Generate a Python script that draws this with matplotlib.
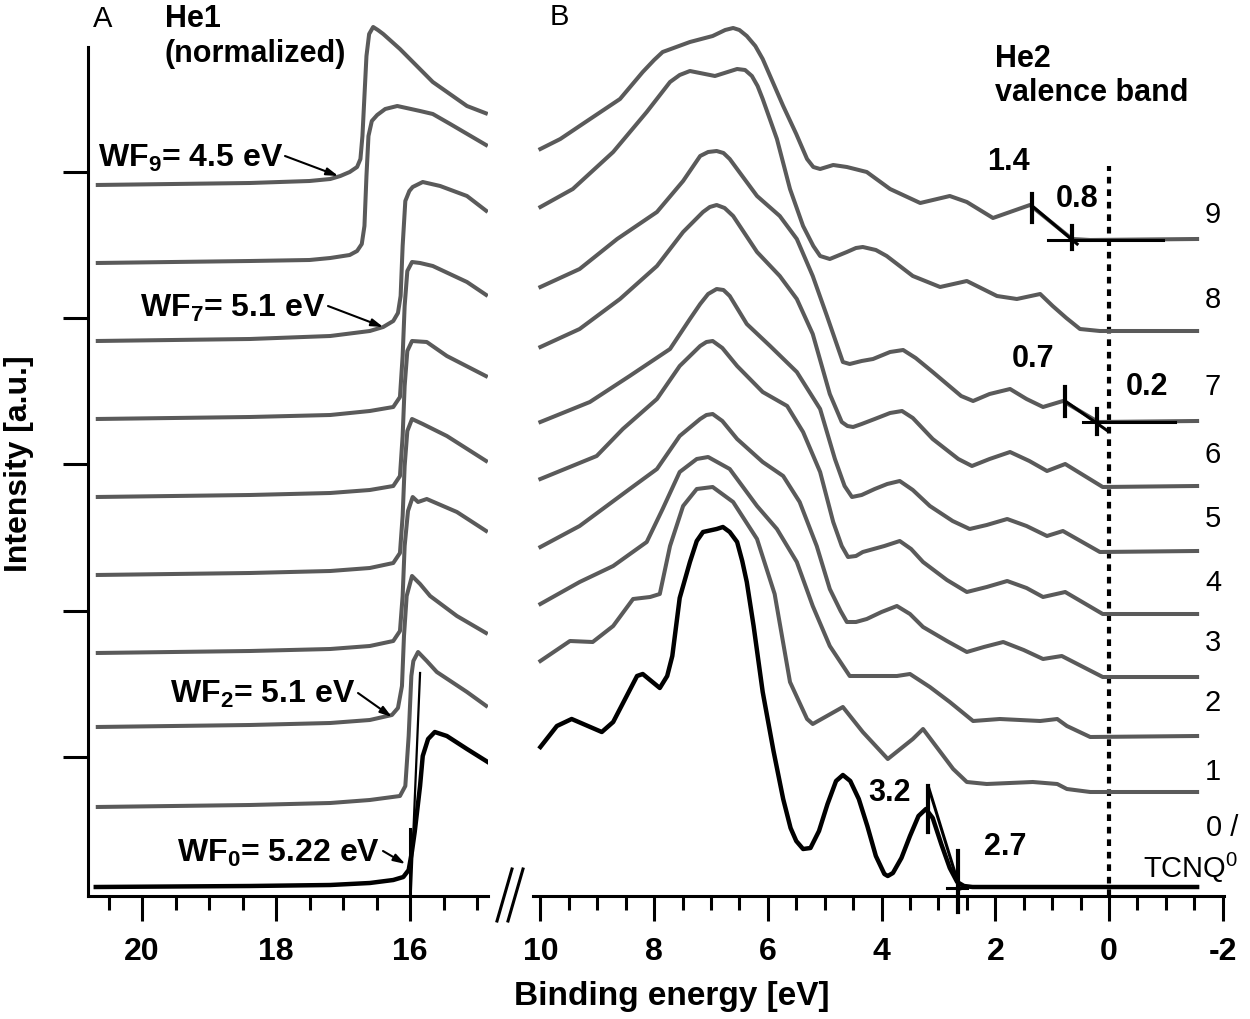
import matplotlib
matplotlib.use('Agg')
import matplotlib.pyplot as plt
from matplotlib.lines import Line2D
from matplotlib.ticker import MultipleLocator

plt.rcParams['font.family'] = ['Liberation Sans', 'DejaVu Sans']
plt.rcParams['mathtext.default'] = 'regular'
plt.rcParams['axes.unicode_minus'] = False

# ---------------- Panel A: He I secondary-electron cut-off (normalized, stacked) -------------
seco9_E = [20.69, 18.39, 17.50, 17.19, 17.04, 16.90, 16.79, 16.74, 16.71, 16.68, 16.65, 16.61, 16.55, 16.48, 16.40, 16.15, 15.66, 15.15, 14.84]
seco9_I = [711, 713, 715, 717, 720, 724, 729, 737, 760, 800, 840, 862, 869, 866, 862, 847, 814, 790, 782]
seco8_E = [20.69, 18.39, 17.50, 17.19, 16.90, 16.79, 16.72, 16.68, 16.65, 16.62, 16.57, 16.49, 16.37, 16.19, 15.85, 15.66, 15.40, 14.84]
seco8_I = [633, 635, 636, 638, 641, 645, 652, 670, 720, 760, 775, 781, 787, 790, 785, 782, 772, 750]
seco7_E = [20.69, 18.39, 17.19, 16.60, 16.40, 16.25, 16.18, 16.14, 16.11, 16.07, 16.01, 15.96, 15.81, 15.55, 15.15, 14.84]
seco7_I = [555, 557, 560, 565, 569, 575, 583, 600, 650, 695, 705, 709, 714, 710, 700, 684]
seco6_E = [20.69, 18.39, 17.19, 16.60, 16.25, 16.15, 16.11, 16.08, 16.04, 15.97, 15.85, 15.66, 15.15, 14.84]
seco6_I = [477, 479, 481, 485, 489, 499, 540, 590, 625, 634, 633, 630, 614, 600]
seco5_E = [20.69, 18.39, 17.19, 16.60, 16.25, 16.15, 16.11, 16.08, 16.04, 15.97, 15.75, 15.45, 14.84]
seco5_I = [399, 401, 403, 406, 410, 420, 460, 510, 545, 555, 554, 540, 519]
seco4_E = [20.69, 18.39, 17.19, 16.60, 16.25, 16.15, 16.11, 16.08, 16.04, 15.97, 15.81, 15.45, 14.84]
seco4_I = [321, 323, 325, 328, 333, 343, 380, 430, 465, 477, 472, 460, 434]
seco3_E = [20.69, 18.39, 17.19, 16.60, 16.25, 16.15, 16.11, 16.08, 16.03, 15.96, 15.88, 15.75, 15.30, 14.84]
seco3_I = [243, 245, 247, 250, 255, 265, 300, 350, 385, 399, 394, 397, 384, 364]
seco2_E = [20.69, 18.39, 17.19, 16.60, 16.27, 16.18, 16.12, 16.09, 16.05, 15.97, 15.85, 15.70, 15.30, 14.84]
seco2_I = [169, 171, 173, 176, 181, 188, 210, 260, 300, 320, 312, 300, 280, 262]
seco1_E = [20.69, 18.39, 17.19, 16.60, 16.15, 16.07, 16.02, 15.98, 15.95, 15.88, 15.75, 15.60, 15.15, 14.84]
seco1_I = [89, 91, 93, 96, 100, 110, 160, 220, 235, 244, 235, 224, 204, 189]
seco0_E = [20.69, 18.39, 17.19, 16.60, 16.25, 16.10, 16.02, 15.97, 15.93, 15.85, 15.81, 15.73, 15.63, 15.45, 15.15, 14.84]
seco0_I = [9, 10, 11, 13, 16, 19, 26, 45, 64, 110, 140, 157, 164, 160, 147, 134]
# linear extrapolation of the TCNQ0 cut-off
seco0_fit_E = [15.99, 15.85]
seco0_fit_I = [0, 223]

# ---------------- Panel B: He II valence band (stacked) ----------------
vb9_E = [10.0, 9.65, 9.31, 8.60, 8.20, 8.00, 7.85, 7.37, 6.97, 6.75, 6.61, 6.50, 6.37, 6.22, 6.09, 5.73, 5.50, 5.31, 5.20, 5.08, 4.85, 4.61, 4.26, 3.85, 3.32, 2.80, 2.50, 2.04, 1.74, 1.39, 0.65, 0.33, -1.55]
vb9_I = [747, 757, 770, 797, 824, 836, 844, 854, 860, 866, 868, 866, 860, 850, 837, 790, 762, 737, 729, 727, 731, 729, 724, 707, 693, 700, 694, 678, 684, 691, 657, 656, 657]
vb8_E = [10.0, 9.43, 8.72, 8.13, 7.72, 7.55, 7.37, 6.93, 6.54, 6.40, 6.28, 6.18, 6.09, 5.84, 5.61, 5.38, 5.20, 5.08, 4.91, 4.61, 4.45, 4.33, 4.10, 3.91, 3.45, 2.97, 2.50, 1.97, 1.62, 1.21, 0.99, 0.75, 0.51, 0.16, -1.55]
vb8_I = [689, 707, 744, 784, 814, 821, 825, 820, 827, 826, 820, 810, 797, 757, 707, 670, 650, 640, 637, 644, 648, 649, 646, 640, 620, 609, 615, 600, 597, 602, 590, 578, 567, 565, 565]
vb7_E = [10.0, 9.31, 8.65, 7.95, 7.49, 7.19, 7.05, 6.90, 6.78, 6.67, 6.45, 6.19, 5.79, 5.49, 5.21, 4.96, 4.68, 4.56, 4.35, 4.15, 3.85, 3.62, 3.40, 3.10, 2.60, 2.39, 2.10, 1.74, 1.45, 1.16, 0.81, 0.19, -1.55]
vb7_I = [609, 627, 657, 684, 715, 740, 744, 745, 743, 737, 720, 700, 680, 657, 620, 580, 534, 532, 535, 537, 544, 546, 538, 524, 500, 495, 502, 507, 497, 489, 495, 474, 475]
vb6_E = [10.0, 9.31, 8.60, 7.95, 7.49, 7.14, 7.02, 6.90, 6.76, 6.61, 6.19, 5.79, 5.49, 5.21, 4.91, 4.70, 4.60, 4.50, 4.35, 4.12, 3.85, 3.64, 3.45, 3.10, 2.65, 2.41, 2.10, 1.74, 1.40, 1.09, 0.77, 0.11, -1.55]
vb6_I = [549, 567, 597, 630, 664, 684, 689, 691, 688, 680, 644, 620, 597, 562, 502, 474, 470, 469, 472, 477, 483, 485, 478, 457, 437, 430, 437, 444, 435, 425, 432, 409, 410]
vb5_E = [10.0, 9.13, 8.43, 7.72, 7.37, 7.19, 7.05, 6.90, 6.78, 6.67, 6.37, 5.96, 5.49, 5.08, 4.82, 4.65, 4.52, 4.35, 4.12, 3.90, 3.68, 3.45, 3.15, 2.75, 2.45, 2.15, 1.79, 1.45, 1.09, 0.81, 0.16, -1.55]
vb5_I = [474, 494, 520, 547, 577, 592, 602, 607, 606, 600, 572, 550, 524, 487, 437, 410, 399, 401, 407, 412, 415, 406, 390, 375, 367, 371, 377, 370, 360, 365, 344, 345]
vb4_E = [10.0, 9.01, 8.55, 7.95, 7.55, 7.19, 7.08, 6.97, 6.80, 6.54, 6.09, 5.66, 5.38, 5.08, 4.85, 4.70, 4.59, 4.45, 4.33, 3.95, 3.68, 3.48, 3.27, 2.85, 2.50, 2.15, 1.79, 1.45, 1.16, 0.77, 0.11, -1.55]
vb4_I = [417, 440, 467, 497, 530, 550, 554, 555, 548, 530, 504, 490, 464, 424, 374, 350, 339, 340, 344, 350, 355, 347, 334, 316, 304, 309, 315, 308, 299, 304, 282, 282]
vb3_E = [10.0, 9.31, 8.43, 7.95, 7.55, 7.19, 7.08, 6.97, 6.80, 6.54, 6.09, 5.73, 5.44, 5.14, 4.91, 4.72, 4.61, 4.45, 4.26, 4.00, 3.73, 3.50, 3.27, 2.85, 2.50, 2.20, 1.86, 1.50, 1.16, 0.83, 0.11, -1.55]
vb3_I = [349, 370, 407, 427, 460, 477, 481, 482, 475, 457, 434, 420, 394, 350, 307, 285, 274, 274, 277, 284, 290, 282, 269, 255, 244, 249, 254, 246, 237, 240, 219, 219]
vb2_E = [10.0, 9.31, 8.72, 8.13, 7.85, 7.55, 7.25, 7.05, 6.67, 6.19, 5.84, 5.49, 5.21, 4.91, 4.56, 3.73, 3.50, 3.15, 2.80, 2.39, 1.92, 1.21, 0.91, 0.74, 0.33, -1.55]
vb2_I = [292, 314, 330, 354, 387, 424, 437, 439, 427, 390, 367, 334, 290, 250, 220, 220, 222, 209, 194, 175, 177, 175, 177, 170, 159, 160]
vb1_E = [10.0, 9.48, 9.08, 8.72, 8.37, 8.07, 7.90, 7.72, 7.49, 7.25, 6.97, 6.61, 6.19, 5.88, 5.61, 5.31, 5.21, 4.68, 4.33, 3.89, 3.45, 3.27, 2.74, 2.50, 2.15, 1.34, 0.91, 0.74, 0.33, -1.55]
vb1_I = [235, 255, 254, 270, 297, 299, 302, 350, 390, 407, 409, 394, 357, 302, 214, 177, 172, 189, 164, 137, 157, 167, 127, 114, 112, 114, 112, 107, 104, 104]
vb0_E = [10.0, 9.71, 9.45, 8.92, 8.72, 8.30, 8.20, 7.90, 7.77, 7.68, 7.55, 7.37, 7.25, 7.14, 6.90, 6.79, 6.67, 6.54, 6.45, 6.37, 6.25, 6.09, 5.90, 5.73, 5.60, 5.50, 5.38, 5.25, 5.10, 4.95, 4.80, 4.68, 4.55, 4.40, 4.25, 4.10, 3.95, 3.89, 3.80, 3.65, 3.50, 3.35, 3.22, 3.10, 2.95, 2.80, 2.67, 2.55, 2.40, -1.55]
vb0_I = [149, 170, 177, 164, 174, 220, 222, 208, 220, 240, 298, 334, 355, 364, 367, 369, 364, 354, 335, 314, 270, 204, 145, 97, 68, 55, 47, 48, 65, 92, 115, 121, 115, 97, 70, 40, 22, 20, 23, 38, 60, 80, 87, 78, 52, 28, 14, 10, 9, 9]

# onset / edge marks (energy, low, high)
marks_E = [1.35, 0.65, 0.77, 0.21, 3.18, 2.66]
marks_lo = [674, 647, 480, 462, 64, -16]
marks_hi = [702, 670, 509, 487, 110, 45]
slope_lines = [([1.35, 0.56], [690, 652]), ([0.77, 0.02], [495, 465]), ([3.18, 2.62], [110, 7])]
base_lines = [([1.07, -0.95], [656, 656]), ([0.46, -1.16], [474, 474]), ([2.85, 2.50], [8, 8])]

ticksA = [20, 18, 16]
ticksB = [10, 8, 6, 4, 2, 0, -2]

GRAY = '#5a5a5a'
W, H = 1250, 1020
fig = plt.figure(figsize=(12.5, 10.2), dpi=100)

def fx(x):
    return x / W

def fy(y):
    return 1 - y / H

axL = fig.add_axes([fx(88), fy(897), (488 - 88) / W, 897 / H])
axR = fig.add_axes([fx(533), fy(897), (1224 - 533) / W, 897 / H])
for ax in (axL, axR):
    ax.patch.set_alpha(0)
axL.set_xlim(20.806, 14.836)
axR.set_xlim(10.13, -2.023)
axL.set_ylim(0, 897)
axR.set_ylim(0, 897)

secoA = [(seco9_E, seco9_I), (seco8_E, seco8_I), (seco7_E, seco7_I), (seco6_E, seco6_I),
         (seco5_E, seco5_I), (seco4_E, seco4_I), (seco3_E, seco3_I), (seco2_E, seco2_I),
         (seco1_E, seco1_I)]
for e, i in secoA:
    axL.plot(e, i, color=GRAY, lw=2.9, solid_joinstyle='round', solid_capstyle='butt')
axL.plot(seco0_E, seco0_I, color='black', lw=3.2, solid_joinstyle='round')
axL.plot(seco0_fit_E, seco0_fit_I, color='black', lw=1.6)
axL.plot([16.0, 16.0], [0, 67], color='black', lw=2.2)

vbB = [(vb9_E, vb9_I), (vb8_E, vb8_I), (vb7_E, vb7_I), (vb6_E, vb6_I), (vb5_E, vb5_I),
       (vb4_E, vb4_I), (vb3_E, vb3_I), (vb2_E, vb2_I), (vb1_E, vb1_I)]
axR.plot([0, 0], [0, 730], color='black', lw=3, ls=(0, (1.6, 1.4)), zorder=1)
for e, i in vbB:
    axR.plot(e, i, color=GRAY, lw=2.9, solid_joinstyle='round', zorder=2)
axR.plot(vb0_E, vb0_I, color='black', lw=3.2, solid_joinstyle='round', zorder=3)

for e, lo, hi in zip(marks_E, marks_lo, marks_hi):
    axR.plot([e, e], [lo, hi], color='black', lw=3.0, clip_on=False, zorder=4)
for e, i in slope_lines + base_lines:
    axR.plot(e, i, color='black', lw=2.2, zorder=4)

# axes styling
for ax in (axL, axR):
    ax.spines['top'].set_visible(False)
    ax.spines['right'].set_visible(False)
    ax.spines['bottom'].set_linewidth(2.2)
    ax.xaxis.set_minor_locator(MultipleLocator(0.5))
    ax.tick_params(axis='x', which='major', direction='out', length=18, width=2.2, labelsize=23, pad=11)
    ax.tick_params(axis='x', which='minor', direction='out', length=10, width=2.2)
axL.set_xticks(ticksA)
axL.set_xticklabels([str(t) for t in ticksA], fontweight='bold')
axR.set_xticks(ticksB)
axR.set_xticklabels([str(t) for t in ticksB], fontweight='bold')

axL.spines['left'].set_linewidth(2.2)
axL.spines['left'].set_bounds(0, 849)
axL.set_yticks([139, 285, 432, 578, 724])
axL.set_yticklabels([])
axL.tick_params(axis='y', direction='out', length=18, width=2.2)
axR.spines['left'].set_visible(False)
axR.set_yticks([])

# broken-axis mark
for dx in (0, 11):
    fig.add_artist(Line2D([fx(497 + dx), fx(512 + dx)], [fy(922), fy(870)],
                          transform=fig.transFigure, color='black', lw=2.2))

def T(x, y, s, size, weight='bold', ha='center', va='center', **kw):
    fig.text(fx(x), fy(y), s, fontsize=size, fontweight=weight, ha=ha, va=va, **kw)

T(103, 19, 'A', 21, weight='normal')
T(559, 17, 'B', 21, weight='normal')
T(165, 27, 'He1', 22, ha='left', va='baseline')
T(165, 62, '(normalized)', 22, ha='left', va='baseline')
T(995, 67, 'He2', 22, ha='left', va='baseline')
T(995, 101, 'valence band', 22, ha='left', va='baseline')

T(19, 464, 'Intensity [a.u.]', 23, rotation=90)
T(672, 997, 'Binding energy [eV]', 24)

# work-function labels with arrows
wf_labels = [(r'WF$_9$= 4.5 eV', 283, 167, (285, 157), (17.07, 720)),
             (r'WF$_7$= 5.1 eV', 325, 317, (328, 307), (16.40, 569)),
             (r'WF$_2$= 5.1 eV', 355, 703, (358, 694), (16.27, 179)),
             (r'WF$_0$= 5.22 eV', 380, 862, (383, 852), (16.07, 32))]
for s, xr, yb, start, tip in wf_labels:
    T(xr, yb, s, 23, ha='right', va='baseline')
    axL.annotate('', xy=tip, xycoords='data', xytext=(start[0], H - start[1]),
                 textcoords='figure pixels', annotation_clip=False,
                 arrowprops=dict(arrowstyle='-|>,head_length=0.7,head_width=0.22',
                                 color='black', lw=1.5, shrinkA=0, shrinkB=0))

# onset values
for s, x, y in [('1.4', 1008, 162), ('0.8', 1077, 199), ('0.7', 1033, 359),
                ('0.2', 1147, 387), ('3.2', 890, 793), ('2.7', 1005, 847)]:
    T(x, y, s, 22)

# spectrum numbers
for s, y in [('9', 215), ('8', 300), ('7', 387), ('6', 455), ('5', 519), ('4', 583),
             ('3', 643), ('2', 703), ('1', 772)]:
    T(1213, y, s, 21, weight='normal')
T(1222, 828, '0 /', 21, weight='normal')
T(1143, 878, r'TCNQ$^0$', 21, weight='normal', ha='left', va='baseline')

fig.savefig('out.png', dpi=100)
